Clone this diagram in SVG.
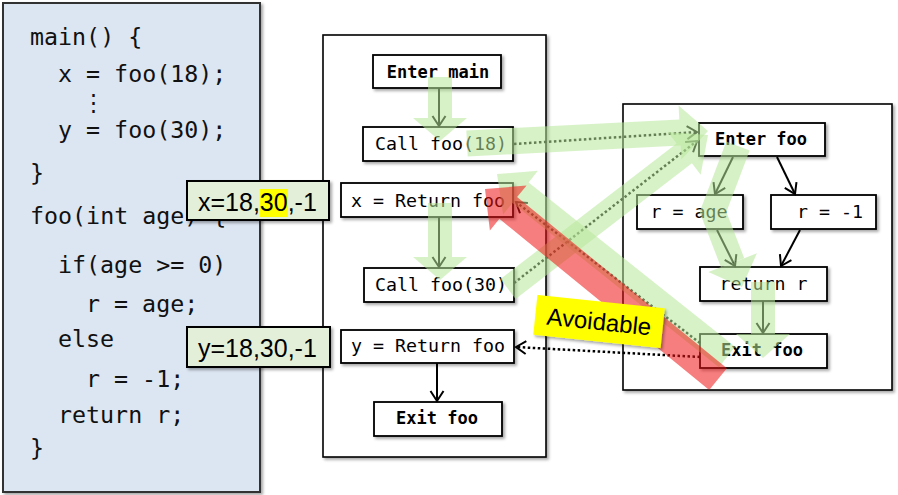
<svg xmlns="http://www.w3.org/2000/svg" width="898" height="495" viewBox="0 0 898 495">
  <defs>
    <filter id="shadow" x="-10%" y="-10%" width="130%" height="140%">
      <feDropShadow dx="2" dy="2" stdDeviation="1.5" flood-color="#000" flood-opacity="0.35"/>
    </filter>
    <marker id="v" markerUnits="userSpaceOnUse" markerWidth="16" markerHeight="16" viewBox="-12 -8 16 16" refX="0" refY="0" orient="auto">
      <path d="M-10,-6.5 L0,0 L-10,6.5" fill="none" stroke="#000" stroke-width="2"/>
    </marker>
    <style>
      .code { font-family: "DejaVu Sans Mono", "Liberation Mono", monospace; font-size: 23.3px; fill: #111; }
      .panel { fill: #fff; stroke: #000; stroke-width: 1.6; filter: url(#shadow); }
      .node rect { fill: #fff; stroke: #000; stroke-width: 1.8; filter: url(#shadow); }
      .node text { font-family: "DejaVu Sans Mono", "Liberation Mono", monospace; font-size: 18.3px; text-anchor: middle; fill: #000; }
      .node.bold text { font-weight: bold; font-size: 17px; }
      .edge { fill: none; stroke: #000; stroke-width: 2; marker-end: url(#v); }
      .dot { stroke-width: 2.5; stroke-dasharray: 2.5 2.5; }
      .band { fill: #b8e79b; stroke: none; }
      .bandline { fill: none; stroke: #b8e79b; stroke-width: 25; stroke-linejoin: miter; }
      .val rect.box { fill: #e4efd9; stroke: #000; stroke-width: 2; filter: url(#shadow); }
      .val text { font-family: "Liberation Sans", Arial, sans-serif; font-size: 25px; fill: #000; }
    </style>
  </defs>

  <!-- source code panel -->
  <g id="code">
    <rect x="3" y="3" width="257" height="489" fill="#dce6f2" stroke="#333" stroke-width="2" filter="url(#shadow)"/>
    <text class="code" x="30" y="45">main() {</text>
    <text class="code" x="58" y="82">x = foo(18);</text>
    <text class="code" x="93" y="110" font-size="16" text-anchor="middle">⋮</text>
    <text class="code" x="58" y="138">y = foo(30);</text>
    <text class="code" x="30" y="181">}</text>
    <text class="code" x="30" y="224">foo(int age) {</text>
    <text class="code" x="58" y="273">if(age &gt;= 0)</text>
    <text class="code" x="86" y="312">r = age;</text>
    <text class="code" x="58" y="347">else</text>
    <text class="code" x="86" y="387">r = -1;</text>
    <text class="code" x="58" y="423">return r;</text>
    <text class="code" x="30" y="456">}</text>
  </g>

  <!-- procedure frames -->
  <rect id="frame-main" class="panel" x="323" y="35" width="223" height="422"/>
  <rect id="frame-foo" class="panel" x="623" y="104" width="269" height="286"/>

  <!-- main graph nodes -->
  <g id="enter-main" class="node bold"><rect x="373" y="55" width="128" height="33"/><text x="438" y="78">Enter main</text></g>
  <g id="call-18" class="node"><rect x="363" y="127" width="150" height="34"/><text x="441" y="150">Call foo(18)</text></g>
  <g id="ret-x" class="node"><rect x="341" y="183" width="172" height="34"/><text x="428" y="207">x = Return foo</text></g>
  <g id="call-30" class="node"><rect x="364" y="268" width="150" height="34"/><text x="441" y="291">Call foo(30)</text></g>
  <g id="ret-y" class="node"><rect x="341" y="330" width="173" height="33"/><text x="428" y="352">y = Return foo</text></g>
  <g id="exit-main" class="node bold"><rect x="374" y="402" width="128" height="34"/><text x="437" y="424">Exit foo</text></g>

  <!-- foo graph nodes -->
  <g id="enter-foo" class="node bold"><rect x="699" y="123" width="126" height="33"/><text x="761" y="145">Enter foo</text></g>
  <g id="r-age" class="node"><rect x="637" y="195" width="106" height="34"/><text x="689" y="218">r = age</text></g>
  <g id="r-neg" class="node"><rect x="771" y="195" width="105" height="34"/><text x="830" y="218">r = -1</text></g>
  <g id="ret-r" class="node"><rect x="700" y="267" width="127" height="34"/><text x="763.5" y="290">return r</text></g>
  <g id="exit-foo" class="node bold"><rect x="700" y="334" width="127" height="34"/><text x="762" y="356">Exit foo</text></g>

  <!-- connectors -->
  <g id="connectors">
    <line class="edge" x1="439" y1="88" x2="439" y2="126"/>
    <line class="edge" x1="439" y1="217" x2="439" y2="267"/>
    <line class="edge" x1="437" y1="363" x2="437" y2="401"/>
    <line class="edge" x1="733" y1="157" x2="715" y2="194"/>
    <line class="edge" x1="777" y1="157" x2="795" y2="194"/>
    <line class="edge" x1="717" y1="230" x2="735" y2="266"/>
    <line class="edge" x1="800" y1="230" x2="781" y2="266"/>
    <line class="edge" x1="763" y1="301" x2="763" y2="333"/>
    <line class="edge dot" x1="514" y1="144" x2="697" y2="132"/>
    <line class="edge dot" x1="514" y1="283" x2="697" y2="141"/>
    <line class="edge dot" x1="700" y1="343" x2="516" y2="202"/>
    <line class="edge dot" x1="700" y1="357" x2="516" y2="347"/>
  </g>

  <!-- realizable path highlights -->
  <g id="paths">
    <g opacity="0.55"><polygon class="band" points="428,77 428,118 413,118 440,141 467,118 452,118 452,77"/></g>
    <g opacity="0.55"><polygon class="band" points="428,203 428,257 413,257 440,280 467,257 452,257 452,203"/></g>
    <g opacity="0.55"><polygon class="band" points="467.7,156.5 680.7,145.4 681.4,159.4 708,131 678.6,105.5 679.3,119.5 466.3,130.5"/></g>
    <g opacity="0.55"><polygon class="band" points="515.6,298.9 691.9,163.2 700.7,174.7 708,135 667.8,131.9 676.6,143.4 500.4,279.1"/></g>
    <g opacity="0.55"><polygon class="band" points="735.1,346.8 528.6,182.5 537.9,170.8 497,174 503.1,214.6 512.4,202.9 718.9,367.2"/></g>
    <g opacity="0.55">
      <polyline class="bandline" points="738,146 713,212 732.6,262.7"/>
      <polygon class="band" points="708.3,272.1 742,287 756.9,253.3"/>
    </g>
    <g opacity="0.55"><polygon class="band" points="751,282 751,334 736,334 763,358 790,334 775,334 775,282"/></g>
    <g opacity="0.55"><polygon fill="#f01414" points="726.9,368.2 517.1,197.1 526.6,185.5 485,189 489.9,230.4 499.4,218.8 709.2,389.9"/></g>
  </g>

  <!-- value annotations -->
  <g id="val-x" class="val">
    <rect class="box" x="187" y="181" width="142" height="39"/>
    <rect x="260" y="189" width="28" height="28" fill="#ffff00"/>
    <text x="198" y="211">x=18,30,-1</text>
  </g>
  <g id="val-y" class="val">
    <rect class="box" x="187" y="327" width="143" height="40"/>
    <text x="198" y="357">y=18,30,-1</text>
  </g>

  <g id="avoidable" transform="translate(599,321.5) rotate(6)">
    <rect x="-64" y="-20" width="128" height="40" fill="#ffff00" filter="url(#shadow)"/>
    <text x="0" y="8.5" text-anchor="middle" font-family="Liberation Sans, Arial, sans-serif" font-size="24" fill="#000">Avoidable</text>
  </g>
</svg>
